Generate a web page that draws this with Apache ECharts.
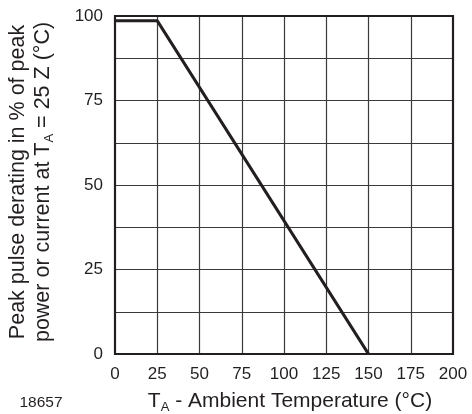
<!DOCTYPE html>
<html><head><meta charset="utf-8">
<script src="https://cdn.jsdelivr.net/npm/echarts@6/dist/echarts.min.js"></script>
<style>html,body{margin:0;padding:0;background:#fff}#c{width:472px;height:414px}</style>
</head><body><div id="c"></div>
<script>
const temps = [0, 25, 150];
const derating = [98.6, 98.6, 0];
const xTicks = [0, 25, 50, 75, 100, 125, 150, 175, 200];
const yTicks = [0, 25, 50, 75, 100];

const chart = echarts.init(document.getElementById('c'));
const F = 'Liberation Sans, Arial, sans-serif';
chart.setOption({
  animation: false,
  backgroundColor: '#fff',
  grid: {left: 115, top: 16, width: 338, height: 338},
  xAxis: {
    type: 'value', min: 0, max: 200, interval: 12.5,
    axisLine: {show: false}, axisTick: {show: false},
    splitLine: {show: false},
    axisLabel: {fontFamily: F, fontSize: 17, color: '#231f20', margin: 12,
      formatter: v => xTicks.includes(v) ? String(v) : ''}
  },
  yAxis: {
    type: 'value', min: 0, max: 100, interval: 12.5,
    axisLine: {show: false}, axisTick: {show: false},
    splitLine: {show: false},
    axisLabel: {fontFamily: F, fontSize: 17, color: '#231f20', margin: 12,
      formatter: v => yTicks.includes(v) ? String(v) : ''}
  },
  series: [
    {type: 'line', data: xTicks.map(v => [v, 0]), showSymbol: false, silent: true,
      lineStyle: {opacity: 0},
      markLine: {silent: true, symbol: 'none', label: {show: false},
        lineStyle: {color: '#3a3a3a', width: 1.2, type: 'solid'},
        data: [12.5, 25, 37.5, 50, 62.5, 75, 87.5].map(v => ({yAxis: v}))
          .concat([25, 50, 75, 100, 125, 150, 175].map(v => ({xAxis: v})))}
    },
    {type: 'line', data: temps.map((t, i) => [t, derating[i]]), showSymbol: false,
      lineStyle: {color: '#231f20', width: 3.2}, z: 5}
  ],
  graphic: [
    {type: 'rect', shape: {x: 115, y: 16, width: 338, height: 338}, z: 10,
      style: {fill: 'none', stroke: '#231f20', lineWidth: 2.2}},
    {type: 'text', x: 31, y: 182, rotation: Math.PI / 2, z: 10,
      style: {
        text: '{a|Peak pulse derating in % of peak}\n{a|power or current at T}{s|A}{a| = 25 Z (°C)}',
        align: 'center', verticalAlign: 'middle', fill: '#231f20',
        rich: {
          a: {fontFamily: F, fontSize: 21.5, lineHeight: 25, fill: '#231f20'},
          s: {fontFamily: F, fontSize: 13, lineHeight: 25, fill: '#231f20', padding: [12, 0, 0, 0]}
        }
      }},
    {type: 'text', x: 290, y: 401, z: 10,
      style: {
        text: '{a|T}{s|A}{a| - Ambient Temperature (°C)}',
        align: 'center', verticalAlign: 'middle', fill: '#231f20',
        rich: {
          a: {fontFamily: F, fontSize: 21, lineHeight: 24, fill: '#231f20'},
          s: {fontFamily: F, fontSize: 13, lineHeight: 24, fill: '#231f20', padding: [12, 0, 0, 0]}
        }
      }},
    {type: 'text', x: 41, y: 403, z: 10,
      style: {text: '18657', fontFamily: F, fontSize: 15.5, fill: '#231f20', align: 'center', verticalAlign: 'middle'}}
  ]
});
</script></body></html>
